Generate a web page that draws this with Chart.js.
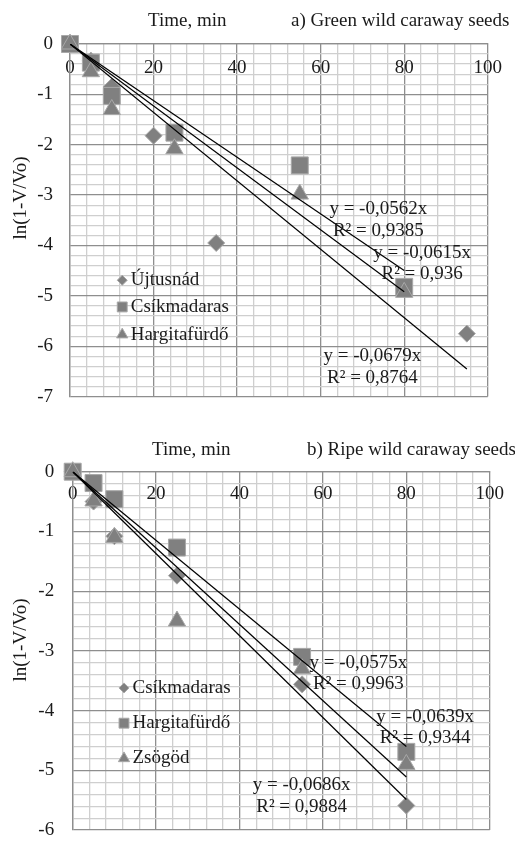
<!DOCTYPE html>
<html><head><meta charset="utf-8">
<script src="https://cdn.jsdelivr.net/npm/chart.js@4/dist/chart.umd.min.js"></script>
<style>
html,body{margin:0;padding:0;background:#fff;overflow:hidden;}
#wrap{position:relative;width:515px;height:852px;overflow:hidden;}
.box{position:absolute;left:0;width:515px;}
</style></head>
<body>
<div id="wrap">
<div class="box" style="top:0;height:425px"><canvas id="ca" width="515" height="425"></canvas></div>
<div class="box" style="top:420px;height:440px"><canvas id="cb" width="515" height="440"></canvas></div>
</div>
<script>
// ---------- data ----------
const timesA_U = [0, 5, 10, 20, 35, 95];
const valsA_U  = [0, -0.33, -0.85, -1.82, -3.95, -5.75];
const timesA   = [0, 5, 10, 25, 55, 80];
const valsA_C  = [0, -0.37, -1.03, -1.76, -2.41, -4.82];
const valsA_H  = [0, -0.55, -1.30, -2.08, -2.98, -4.93];
const seriesA  = ['Újtusnád', 'Csíkmadaras', 'Hargitafürdő'];
const slopesA  = [-0.0679, -0.0562, -0.0615];
const r2A      = ['0,8764', '0,9385', '0,936'];
const trendEndA = [95, 80, 80];

const timesB   = [0, 5, 10, 25, 55, 80];
const valsB_C  = [0, -0.50, -1.08, -1.74, -3.56, -5.59];
const valsB_H  = [0, -0.19, -0.46, -1.27, -3.10, -4.69];
const valsB_Z  = [0, -0.49, -1.10, -2.50, -3.30, -4.90];
const seriesB  = ['Csíkmadaras', 'Hargitafürdő', 'Zsögöd'];
const slopesB  = [-0.0686, -0.0575, -0.0639];
const r2B      = ['0,9884', '0,9963', '0,9344'];
const trendEndB = [80, 80, 80];

const xAxisTitle = 'Time, min';
const yAxisTitle = 'ln(1-V/Vo)';
const titleA = 'a) Green wild caraway seeds';
const titleB = 'b) Ripe wild caraway seeds';

// ---------- styling ----------
const FONT_FAMILY = '"Liberation Serif", "Times New Roman", serif';
const FS = 19;
const TXT = '#1a1a1a';
const MAJ = '#8e8e8e';
const MIN = '#cfcfcf';
const PT_FILL = '#808080';
const PT_EDGE = '#a8a8a8';
const styles = ['rectRot', 'rect', 'triangle'];
const radii = [8.5, 12, 10];
const legRadii = [5, 7, 6.5];

function isMult(v, m) { const q = v / m; return Math.abs(q - Math.round(q)) < 1e-6; }
function fmtSlope(s) { return 'y = ' + String(s).replace('.', ',') + 'x'; }

function buildChart(canvasId, cfg) {
  const datasets = [];
  // trend lines (on top)
  cfg.slopes.forEach((s, i) => {
    datasets.push({
      type: 'line', label: 'trend' + i,
      data: [{x: 0, y: 0}, {x: cfg.trendEnd[i], y: s * cfg.trendEnd[i]}],
      borderColor: '#000', borderWidth: 1.2, pointRadius: 0, fill: false, order: 0
    });
  });
  cfg.series.forEach((name, i) => {
    datasets.push({
      type: 'scatter', label: name,
      data: cfg.xs[i].map((x, k) => ({x: x, y: cfg.ys[i][k]})),
      pointStyle: styles[i], pointRadius: radii[i], pointHoverRadius: radii[i],
      backgroundColor: PT_FILL, borderColor: PT_EDGE, borderWidth: 1,
      clip: false, order: 3 - i
    });
  });

  const annot = {
    id: 'annot' + canvasId,
    afterDatasetsDraw(chart) {
      const ctx = chart.ctx, xs = chart.scales.x, ys = chart.scales.y;
      ctx.save();
      ctx.font = FS + 'px ' + FONT_FAMILY;
      ctx.fillStyle = TXT;
      ctx.textAlign = 'left'; ctx.textBaseline = 'alphabetic';
      ctx.fillText(xAxisTitle, cfg.headX1, cfg.headY);
      ctx.fillText(cfg.title, cfg.headX2, cfg.headY);
      // rotated y-axis title
      ctx.save();
      ctx.translate(cfg.yTitleX, cfg.yTitleY);
      ctx.rotate(-Math.PI / 2);
      ctx.textAlign = 'center'; ctx.textBaseline = 'middle';
      ctx.fillText(yAxisTitle, 0, 0);
      ctx.restore();
      // equations
      ctx.textAlign = 'center'; ctx.textBaseline = 'middle';
      cfg.eqPos.forEach((p, i) => {
        const px = xs.getPixelForValue(p[0]), py = ys.getPixelForValue(p[1]);
        ctx.fillText(fmtSlope(cfg.slopes[i]), px, py - 10.8);
        ctx.fillText('R² = ' + cfg.r2[i], px, py + 10.8);
      });
      // legend
      ctx.textAlign = 'left';
      cfg.series.forEach((name, i) => {
        const px = xs.getPixelForValue(cfg.legX), py = ys.getPixelForValue(cfg.legY[i]);
        ctx.fillStyle = PT_FILL; ctx.strokeStyle = PT_EDGE; ctx.lineWidth = 1;
        Chart.helpers.drawPoint(ctx, {pointStyle: styles[i], radius: legRadii[i], rotation: 0, borderWidth: 1}, px, py);
        ctx.fillStyle = TXT;
        ctx.fillText(name, px + 8.5, py);
      });
      ctx.restore();
    }
  };

  const font = {family: FONT_FAMILY, size: FS};
  return new Chart(document.getElementById(canvasId), {
    data: {datasets},
    options: {
      responsive: false, animation: false, events: [],
      layout: {padding: cfg.padding},
      plugins: {legend: {display: false}, tooltip: {enabled: false}, title: {display: false}},
      scales: {
        x: {
          type: 'linear', min: 0, max: 100, position: {y: 0},
          ticks: {stepSize: 4, autoSkip: false, maxRotation: 0, minRotation: 0, padding: cfg.xPad,
                  font, color: TXT, callback: v => isMult(v, 20) ? String(Math.round(v)) : ''},
          grid: {drawTicks: false, color: c => (c.tick && isMult(c.tick.value, 20)) ? MAJ : MIN, lineWidth: 1.3},
          border: {display: true, color: MAJ, width: 1.3}
        },
        y: {
          type: 'linear', min: cfg.yMin, max: 0, position: 'left',
          afterFit: s => { s.width = cfg.yWidth; },
          ticks: {stepSize: 0.2, autoSkip: false, padding: cfg.yPad, font, color: TXT,
                  callback: v => isMult(v, 1) ? String(Math.round(v) === 0 ? 0 : Math.round(v)) : ''},
          grid: {drawTicks: false, color: c => (c.tick && isMult(c.tick.value, 1)) ? MAJ : MIN, lineWidth: 1.3},
          border: {display: true, color: MAJ, width: 1.3},
          title: {display: false}
        }
      }
    },
    plugins: [annot]
  });
}

buildChart('ca', {
  series: seriesA, xs: [timesA_U, timesA, timesA], ys: [valsA_U, valsA_C, valsA_H],
  slopes: slopesA, r2: r2A, trendEnd: trendEndA,
  eqPos: [[72.4, -6.41], [73.8, -3.50], [84.3, -4.36]],
  legX: 12.5, legY: [-4.69, -5.22, -5.77],
  title: titleA, headX1: 148, headX2: 291, headY: 26,
  yTitleX: 21, yTitleY: 198,
  padding: {top: 44, right: 25, bottom: 12, left: 0},
  yWidth: 70, yMin: -7, yPad: 17, xPad: 13
});

buildChart('cb', {
  series: seriesB, xs: [timesB, timesB, timesB], ys: [valsB_C, valsB_H, valsB_Z],
  slopes: slopesB, r2: r2B, trendEnd: trendEndB,
  eqPos: [[54.9, -5.43], [68.5, -3.38], [84.5, -4.28]],
  legX: 12.3, legY: [-3.62, -4.21, -4.80],
  title: titleB, headX1: 152, headX2: 307, headY: 35,
  yTitleX: 21, yTitleY: 220,
  padding: {top: 51.7, right: 24.3, bottom: 17, left: 0},
  yWidth: 72.7, yMin: -6, yPad: 18.5, xPad: 11
});
</script>
</body></html>
